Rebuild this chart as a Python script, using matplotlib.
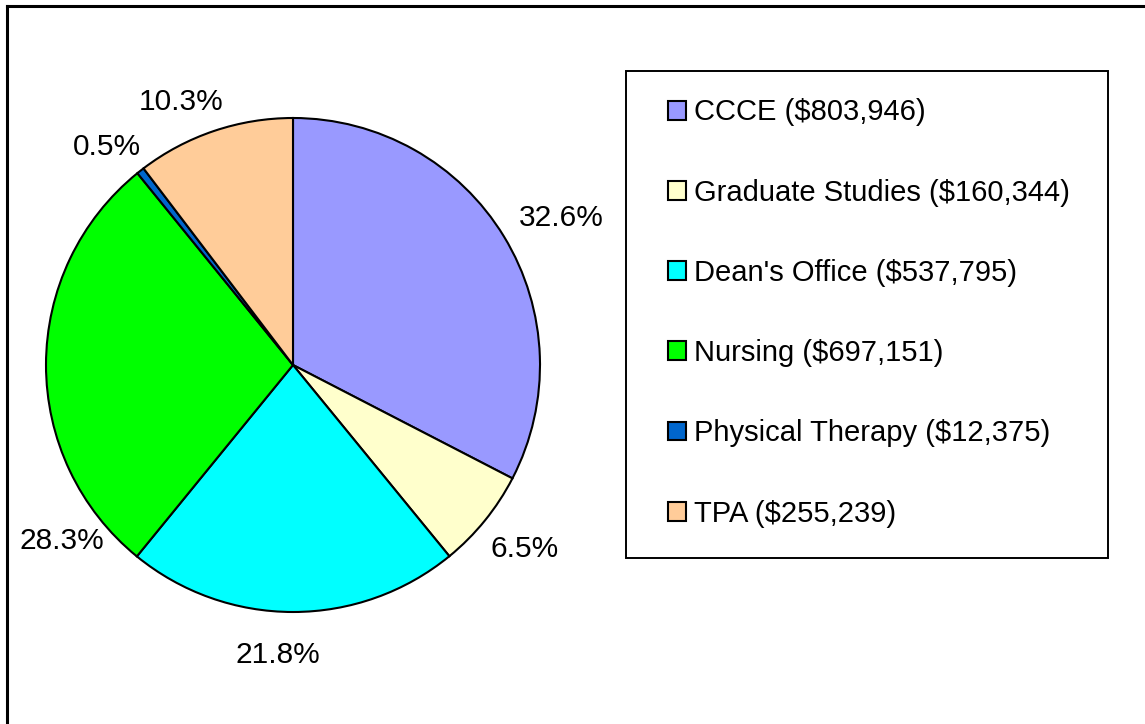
import matplotlib.pyplot as plt
from matplotlib.patches import Rectangle
from matplotlib.lines import Line2D

plt.rcParams['font.family'] = ['Liberation Sans', 'DejaVu Sans']

# data
names = ["CCCE", "Graduate Studies", "Dean's Office", "Nursing", "Physical Therapy", "TPA"]
amounts = [803946, 160344, 537795, 697151, 12375, 255239]
colors = ["#9999FF", "#FFFFCC", "#00FFFF", "#00FF00", "#0066CC", "#FFCC99"]

# where Excel put the percent labels (pie radius units)
label_pos = [(1.085, 0.595), (0.939, -0.745), (-0.06, -1.174),
             (-0.935, -0.713), (-0.753, 0.883), (-0.453, 1.065)]

W, H = 1145, 724
fig = plt.figure(figsize=(W / 100, H / 100), dpi=100)

# pie: center (293, 365), radius 247 px
cx, cy, r = 293, 365, 247
ax = fig.add_axes([(cx - r) / W, (H - cy - r) / H, 2 * r / W, 2 * r / H])
wedges, texts, autotexts = ax.pie(
    amounts, colors=colors, startangle=90, counterclock=False,
    autopct="%1.1f%%", pctdistance=1.19,
    wedgeprops=dict(edgecolor="black", linewidth=1.5),
    textprops=dict(fontsize=21.5, color="black"))
for t, p in zip(autotexts, label_pos):
    t.set_position(p)
ax.set_xlim(-1, 1)
ax.set_ylim(-1, 1)
ax.set_aspect("equal")
ax.axis("off")

# outer border (top and left visible)
fig.add_artist(Line2D([7 / W, 1], [1 - 6 / H, 1 - 6 / H], color="black", lw=2.2, transform=fig.transFigure))
fig.add_artist(Line2D([7 / W, 7 / W], [0, 1 - 6 / H], color="black", lw=2.2, transform=fig.transFigure))

# legend frame
fig.add_artist(Rectangle((626 / W, 1 - 558 / H), (1108 - 626) / W, (558 - 71) / H,
                         fill=False, edgecolor="black", lw=1.4, transform=fig.transFigure))

labels = [f"{n} (${a:,})" for n, a in zip(names, amounts)]
leg = fig.legend(wedges, labels, loc="center left",
                 bbox_to_anchor=(668 / W, 1 - 313 / H),
                 frameon=False, fontsize=21, borderpad=0, borderaxespad=0,
                 handlelength=0.62, handleheight=0.62, handletextpad=0.28,
                 labelspacing=1.79)

fig.savefig("out.png", dpi=100)
